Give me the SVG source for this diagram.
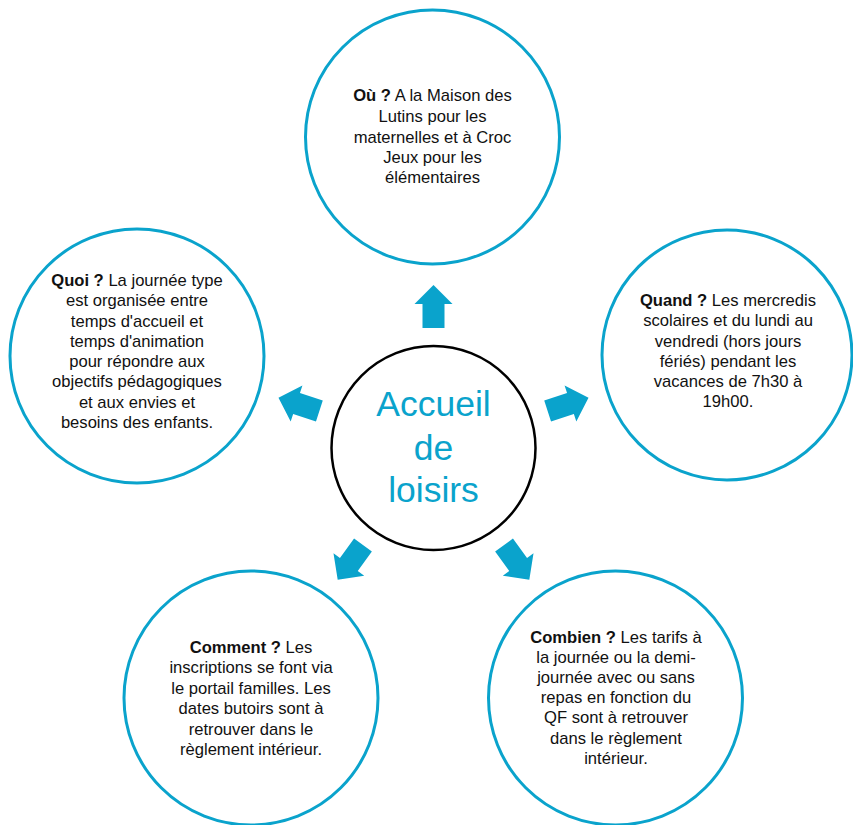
<svg xmlns="http://www.w3.org/2000/svg" width="853" height="825" viewBox="0 0 853 825">
<style>
.ring{fill:#fff;stroke:#0aa3cc;stroke-width:3}
.hub{fill:#fff;stroke:#000;stroke-width:2.5}
.t{font-family:"Liberation Sans",Arial,sans-serif;font-size:16.6px;fill:#111;text-anchor:middle}
.b{font-weight:bold}
.hubt{font-family:"Liberation Sans",Arial,sans-serif;font-size:35.5px;fill:#0aa3cc;text-anchor:middle}
.arr{fill:#0aa3cc}
</style>
<defs>
<path id="arrow" d="M0,-163 L19,-144 L11,-144 L11,-120 L-11,-120 L-11,-144 L-19,-144 Z"/>
</defs>
<rect width="853" height="825" fill="#fff"/>
<g id="connectors" class="arr" transform="translate(433.5,448)">
<use href="#arrow"/>
<use href="#arrow" transform="rotate(72)"/>
<use href="#arrow" transform="rotate(144)"/>
<use href="#arrow" transform="rotate(-144)"/>
<use href="#arrow" transform="rotate(-72)"/>
</g>
<g id="hub">
<circle class="hub" cx="433.5" cy="448" r="102"/>
<text class="hubt" x="433.5" y="416">Accueil</text>
<text class="hubt" x="433.5" y="460">de</text>
<text class="hubt" x="433.5" y="502">loisirs</text>
</g>
<g id="ou">
<circle class="ring" cx="432.5" cy="137" r="127"/>
<text class="t" x="432.5" y="101"><tspan class="b">Où ?</tspan> A la Maison des</text>
<text class="t" x="432.5" y="122">Lutins pour les</text>
<text class="t" x="432.5" y="143">maternelles et à Croc</text>
<text class="t" x="432.5" y="163">Jeux pour les</text>
<text class="t" x="432.5" y="183">élémentaires</text>
</g>
<g id="quoi">
<circle class="ring" cx="137" cy="356" r="127"/>
<text class="t" x="137" y="286"><tspan class="b">Quoi ?</tspan> La journée type</text>
<text class="t" x="137" y="306">est organisée entre</text>
<text class="t" x="137" y="327">temps d'accueil et</text>
<text class="t" x="137" y="347">temps d'animation</text>
<text class="t" x="137" y="367">pour répondre aux</text>
<text class="t" x="137" y="387">objectifs pédagogiques</text>
<text class="t" x="137" y="408">et aux envies et</text>
<text class="t" x="137" y="428">besoins des enfants.</text>
</g>
<g id="quand">
<circle class="ring" cx="727" cy="355" r="125"/>
<text class="t" x="728" y="306"><tspan class="b">Quand ?</tspan> Les mercredis</text>
<text class="t" x="728" y="326">scolaires et du lundi au</text>
<text class="t" x="728" y="347">vendredi (hors jours</text>
<text class="t" x="728" y="367">fériés) pendant les</text>
<text class="t" x="728" y="387">vacances de 7h30 à</text>
<text class="t" x="728" y="407">19h00.</text>
</g>
<g id="comment">
<circle class="ring" cx="251" cy="698" r="127"/>
<text class="t" x="251" y="653"><tspan class="b">Comment ?</tspan> Les</text>
<text class="t" x="251" y="673">inscriptions se font via</text>
<text class="t" x="251" y="694">le portail familles. Les</text>
<text class="t" x="251" y="714">dates butoirs sont à</text>
<text class="t" x="251" y="735">retrouver dans le</text>
<text class="t" x="251" y="755">règlement intérieur.</text>
</g>
<g id="combien">
<circle class="ring" cx="615.5" cy="698" r="127"/>
<text class="t" x="616" y="643"><tspan class="b">Combien ?</tspan> Les tarifs à</text>
<text class="t" x="616" y="663">la journée ou la demi-</text>
<text class="t" x="616" y="683">journée avec ou sans</text>
<text class="t" x="616" y="703">repas en fonction du</text>
<text class="t" x="616" y="723">QF sont à retrouver</text>
<text class="t" x="616" y="744">dans le règlement</text>
<text class="t" x="616" y="764">intérieur.</text>
</g>
</svg>
